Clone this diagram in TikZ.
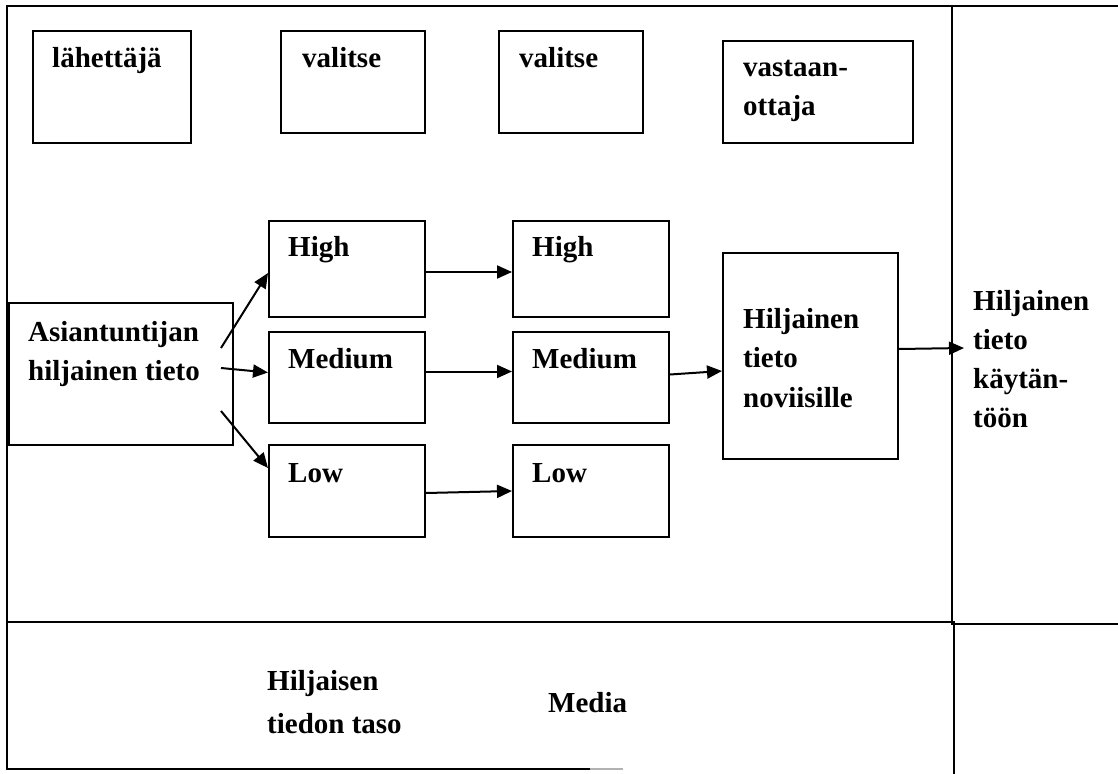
\documentclass[tikz,border=0pt]{standalone}
\usepackage{fontspec}
\setmainfont{Liberation Serif}
\usetikzlibrary{arrows.meta,calc}

\tikzset{
  frameline/.style={line width=2pt, line cap=rect},
  box/.style={draw, line width=2pt, rectangle, anchor=north west, inner sep=0pt},
  lbl/.style={anchor=base west, inner sep=0pt, align=left,
              font=\bfseries\fontsize{29}{39}\selectfont},
  conn/.style={line width=2pt, -{Triangle[length=15pt,width=13pt]}}
}

\begin{document}
\begin{tikzpicture}[x=1pt,y=-1pt]
\useasboundingbox (0,0) rectangle (1118,773);

% outer frame and dividers
\draw[frameline] (1118,6) -- (7,6) -- (7,769) -- (590,769);
\draw[line width=2pt, gray!60] (590,769) -- (623,769);
\draw[frameline] (7,622) -- (952,622);
\draw[frameline] (952,624) -- (1118,624);
\draw[frameline] (952,6) -- (952,622);
\draw[frameline] (954,622) -- (954,773);

% top row of role boxes
\node[box, minimum width=158pt, minimum height=112pt] (send) at (32,30) {};
\node[box, minimum width=144pt, minimum height=102pt] (val1) at (280,30) {};
\node[box, minimum width=144pt, minimum height=102pt] (val2) at (498,30) {};
\node[box, minimum width=190pt, minimum height=102pt] (recv) at (722,40) {};

% (multi-line labels are anchored at the baseline of their last line)
\node[lbl] (tsend) at (52,68) {lähettäjä};
\node[lbl] (tval1) at (302,68) {valitse};
\node[lbl] (tval2) at (519,68) {valitse};
\node[lbl] (trecv) at (743,116) {vastaan-\\ottaja};

% knowledge flow boxes
\node[box, minimum width=224pt, minimum height=142pt] (expert) at (8,302) {};
\node[box, minimum width=156pt, minimum height=96pt] (hi1) at (268,220) {};
\node[box, minimum width=156pt, minimum height=91pt] (me1) at (268,331) {};
\node[box, minimum width=156pt, minimum height=92pt] (lo1) at (268,444) {};
\node[box, minimum width=156pt, minimum height=96pt] (hi2) at (512,220) {};
\node[box, minimum width=156pt, minimum height=91pt] (me2) at (512,331) {};
\node[box, minimum width=156pt, minimum height=92pt] (lo2) at (512,444) {};
\node[box, minimum width=175pt, minimum height=206pt] (novice) at (722,252) {};

\node[lbl] (texpert) at (28,380) {Asiantuntijan\\hiljainen tieto};
\node[lbl] (thi1) at (288,256) {High};
\node[lbl] (tme1) at (288,368) {Medium};
\node[lbl] (tlo1) at (288,482) {Low};
\node[lbl] (thi2) at (532,256) {High};
\node[lbl] (tme2) at (532,368) {Medium};
\node[lbl] (tlo2) at (532,482) {Low};
\node[lbl, font=\bfseries\fontsize{29}{39.5}\selectfont] (tnovice) at (743,407) {Hiljainen\\tieto\\noviisille};
\node[lbl, font=\bfseries\fontsize{29}{38.7}\selectfont] (tuse) at (973,427) {Hiljainen\\tieto\\käytän-\\töön};

% bottom row labels
\node[lbl, font=\bfseries\fontsize{29}{43}\selectfont] (tlevel) at (267,733) {Hiljaisen\\tiedon taso};
\node[lbl] (tmedia) at (548,712) {Media};

% connectors
\coordinate (e1) at (221,348);
\coordinate (e2) at (221,368);
\coordinate (e3) at (221,411);
\coordinate (out) at (964,348);
\draw[conn] (e1) -- ($(hi1.west)+(0,4)$);
\draw[conn] (e2) -- ($(me1.west)+(0,-5)$);
\draw[conn] (e3) -- ($(lo1.north west)+(0,24)$);
\draw[conn] ($(hi1.east)+(0,3)$) -- ($(hi2.west)+(0,3)$);
\draw[conn] ($(me1.east)+(0,-6)$) -- ($(me2.west)+(0,-6)$);
\draw[conn] ($(lo1.east)+(0,2)$) -- (lo2.west);
\draw[conn] ($(me2.east)+(0,-3)$) -- ($(novice.west)+(0,15)$);
\draw[conn] ($(novice.east)+(0,-7)$) -- (out);
\end{tikzpicture}
\end{document}
